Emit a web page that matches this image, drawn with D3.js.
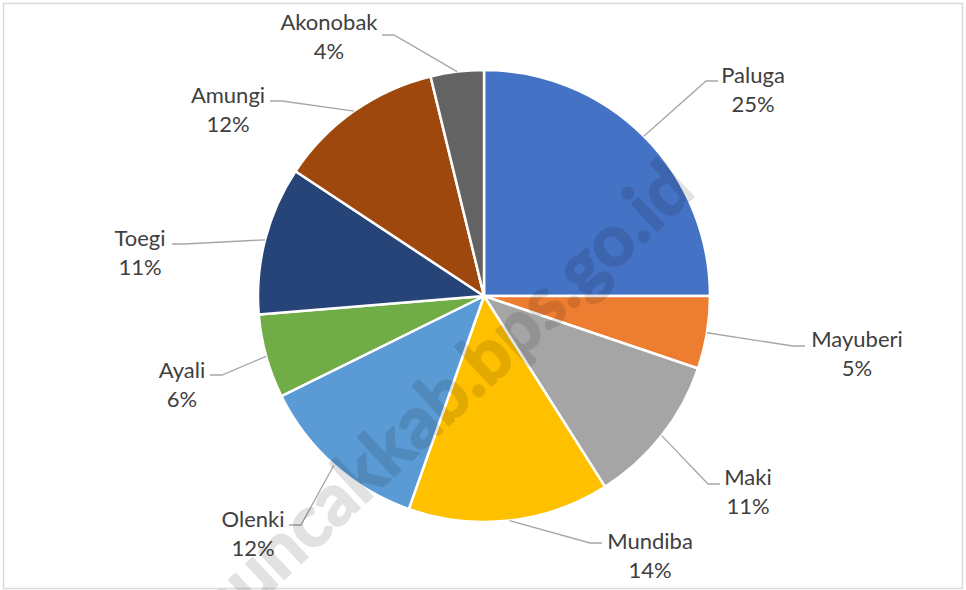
<!DOCTYPE html>
<html>
<head>
<meta charset="utf-8">
<script src="https://cdn.jsdelivr.net/npm/d3@7"></script>
<style>
  body { margin: 0; background: #fff; }
  text { font-family: Lato, "Open Sans", sans-serif; }
</style>
</head>
<body>
<div id="chart"></div>
<script>
// slice data (share of total, %)
const names = ["Paluga", "Mayuberi", "Maki", "Mundiba", "Olenki", "Ayali", "Toegi", "Amungi", "Akonobak"];
const values = [25.0, 5.2, 10.8, 14.4, 12.3, 6.0, 10.6, 11.9, 3.8];
const colors = ["#4472C4", "#ED7D31", "#A5A5A5", "#FFC000", "#5B9BD5", "#70AD47", "#264478", "#9E480E", "#636363"];

// where each label's leader line ends (label side), and which side the text sits on
const labelLayout = [
  {ex: 718, ey: 81, side: 1, tx: 753, ty: 75},
  {ex: 805, ey: 346, side: 1, tx: 857, ty: 339},
  {ex: 720, ey: 484, side: 1, tx: 748, ty: 477},
  {ex: 602, ey: 543, side: 1, tx: 650, ty: 541},
  {ex: 289, ey: 525, side: -1, tx: 253, ty: 519},
  {ex: 210, ey: 375, side: -1, tx: 182, ty: 370},
  {ex: 172, ey: 244, side: -1, tx: 140, ty: 238},
  {ex: 270, ey: 101, side: -1, tx: 228, ty: 95},
  {ex: 382, ey: 35, side: -1, tx: 329, ty: 22}
];

const width = 966, height = 590;
const cx = 484, cy = 296, radius = 226;

const data = names.map((n, i) => ({name: n, value: values[i], color: colors[i], lab: labelLayout[i]}));
const total = d3.sum(values);

const svg = d3.select("#chart").append("svg")
  .attr("width", width)
  .attr("height", height);

svg.append("rect")
  .attr("x", 3.5).attr("y", 3.5)
  .attr("width", 959).attr("height", 585)
  .attr("fill", "#fff")
  .attr("stroke", "#d9d9d9")
  .attr("stroke-width", 1.5);

const pie = d3.pie().sort(null).value(d => d.value);
const arc = d3.arc().innerRadius(0).outerRadius(radius);

const arcs = pie(data);

const g = svg.append("g").attr("transform", `translate(${cx},${cy})`);

g.selectAll("path.slice")
  .data(arcs)
  .join("path")
  .attr("class", "slice")
  .attr("d", arc)
  .attr("fill", d => d.data.color)
  .attr("stroke", "#fff")
  .attr("stroke-width", 2.5)
  .attr("stroke-linejoin", "round");

// leader lines: slice edge at mid angle -> elbow -> label
svg.selectAll("polyline.leader")
  .data(arcs)
  .join("polyline")
  .attr("class", "leader")
  .attr("fill", "none")
  .attr("stroke", "#a6a6a6")
  .attr("stroke-width", 1.3)
  .attr("points", d => {
    const a = (d.startAngle + d.endAngle) / 2;
    const px = cx + radius * Math.sin(a), py = cy - radius * Math.cos(a);
    const L = d.data.lab;
    const elbowX = L.ex - L.side * 12;
    return [[px, py], [elbowX, L.ey], [L.ex, L.ey]].map(p => p.join(",")).join(" ");
  });

const labels = svg.selectAll("g.label")
  .data(arcs)
  .join("g")
  .attr("class", "label")
  .attr("transform", d => `translate(${d.data.lab.tx},${d.data.lab.ty})`);

labels.append("text")
  .attr("text-anchor", "middle")
  .attr("dy", "0.35em")
  .attr("font-size", 22)
  .attr("fill", "#404040")
  .text(d => d.data.name);

labels.append("text")
  .attr("text-anchor", "middle")
  .attr("y", 29.5)
  .attr("dy", "0.35em")
  .attr("font-size", 22)
  .attr("fill", "#404040")
  .text(d => d3.format(".0f")(d.data.value / total * 100) + "%");

// watermark (group opacity so the heavier stroke doesn't double up)
svg.append("g")
  .attr("opacity", 0.11)
  .append("text")
  .attr("transform", "translate(697,194) rotate(-43)")
  .attr("text-anchor", "end")
  .attr("font-family", "'Liberation Sans', Arial, sans-serif")
  .attr("font-weight", "bold")
  .attr("font-size", 72)
  .attr("fill", "#000")
  .attr("stroke", "#000")
  .attr("stroke-width", 2)
  .attr("stroke-linejoin", "round")
  .text("puncakkab.bps.go.id");
</script>
</body>
</html>
